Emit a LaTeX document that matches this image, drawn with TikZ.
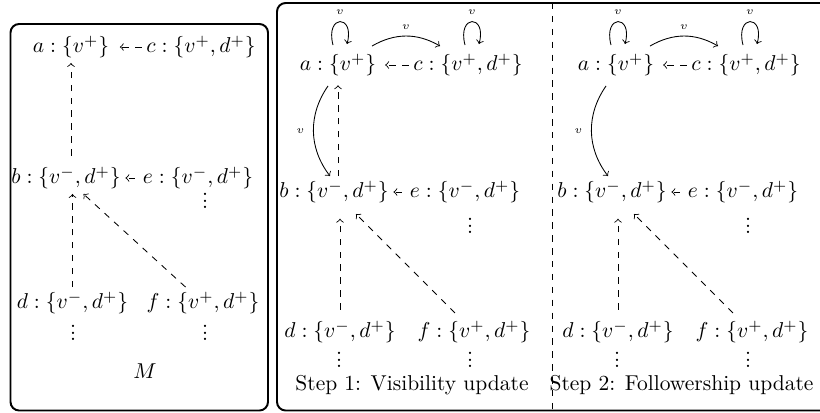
\documentclass[tikz,border=0pt]{standalone}
\usetikzlibrary{calc}
\newcommand\vdts{\vbox{\baselineskip2.9pt\lineskiplimit0pt\hbox{.}\hbox{.}\hbox{.}}}
\tikzset{
  mnode/.style={inner sep=2pt},
  dep/.style={->,dashed},
  vl/.style={font=\tiny,inner sep=1pt},
  panelbox/.style={draw,line width=0.9pt,rounded corners=4pt},
  dotnode/.style={inner sep=0pt}
}
\newcommand\rpanel[2]{%
  \node[mnode] (a#1) at ({#2+338},65) {$a:\{v^+\}$};
  \node[mnode] (c#1) at ({#2+468},65) {$c:\{v^+,d^+\}$};
  \node[mnode] (b#1) at ({#2+334},192) {$b:\{v^-,d^+\}$};
  \node[mnode] (e#1) at ({#2+465},192) {$e:\{v^-,d^+\}$};
  \node[mnode] (d#1) at ({#2+340},332) {$d:\{v^-,d^+\}$};
  \node[mnode] (f#1) at ({#2+474},332) {$f:\{v^+,d^+\}$};
  \node[dotnode] (ve#1) at ({#2+470},226) {\vdts};
  \node[dotnode] (vd#1) at ({#2+339},360) {\vdts};
  \node[dotnode] (vf#1) at ({#2+470},360) {\vdts};
  \draw[dep,shorten >=2pt] (c#1) -- (a#1);
  \draw[dep,shorten <=1.5pt] (e#1) -- (b#1);
  \draw[dep,shorten <=3pt,shorten >=5pt] (d#1.north) -- (b#1.south -| d#1.north);
  \draw[dep,shorten <=2pt,shorten >=4pt] (f#1) -- (b#1);
  \draw[->] ($(a#1.north)+(-5,-4)$) .. controls ($(a#1.north)+(-13,-35)$) and ($(a#1.north)+(17,-35)$) .. ($(a#1.north)+(9,-5)$);
  \node[vl] (la#1) at ($(a#1.north)+(2,-37)$) {$v$};
  \draw[->] ($(c#1.north)+(-3,-4)$) .. controls ($(c#1.north)+(-11,-35)$) and ($(c#1.north)+(19,-35)$) .. ($(c#1.north)+(11,-5)$);
  \node[vl] (lc#1) at ($(c#1.north)+(4,-37)$) {$v$};
  \draw[->] ($(a#1.north)+(34,-3)$) to[bend left=30] node[vl,above=2pt] (lac#1) {$v$} ($(c#1.north)+(-28,-3)$);
  \draw[->] ($(a#1.south)+(-10,5)$) to[bend right=36] node[vl,left=3pt] (lab#1) {$v$} ($(b#1.north)+(-4,0)$);
}
\begin{document}
\begin{tikzpicture}[x=0.4651pt,y=-0.4651pt]
\useasboundingbox (0,0) rectangle (820,412);
% boxes
\draw[panelbox] (10.5,24) rectangle (268,410.5);
\draw[panelbox] (277,3) rectangle (840,410.5);
\draw[dashed] (552,3) -- (552,410.5);
% left panel
\node[mnode] (a0) at (71,47) {$a:\{v^+\}$};
\node[mnode] (c0) at (201,47) {$c:\{v^+,d^+\}$};
\node[mnode] (b0) at (66,178) {$b:\{v^-,d^+\}$};
\node[mnode] (e0) at (198,178) {$e:\{v^-,d^+\}$};
\node[mnode] (d0) at (72.5,303) {$d:\{v^-,d^+\}$};
\node[mnode] (f0) at (203,303) {$f:\{v^+,d^+\}$};
\node[dotnode] (ve0) at (205,201) {\vdts};
\node[dotnode] (vd0) at (73,333) {\vdts};
\node[dotnode] (vf0) at (205,333) {\vdts};
\node (m) at (145,371) {$M$};
\draw[dep,shorten >=2.8pt] (c0) -- (a0);
\draw[dep,shorten <=1.5pt] (e0) -- (b0);
\draw[dep,shorten <=3pt] (b0.north -| a0.south) -- (a0.south);
\draw[dep] (d0.north) -- (b0.south -| d0.north);
\draw[dep] (f0) -- (b0);
% right panels
\rpanel{1}{0}
\draw[dep,shorten >=2pt] (b1.north -| a1.south) -- (a1.south);
\rpanel{2}{278}
\node (s1) at (412,385) {Step 1: Visibility update};
\node (s2) at (681.5,385) {Step 2: Followership update};
\end{tikzpicture}
\end{document}
